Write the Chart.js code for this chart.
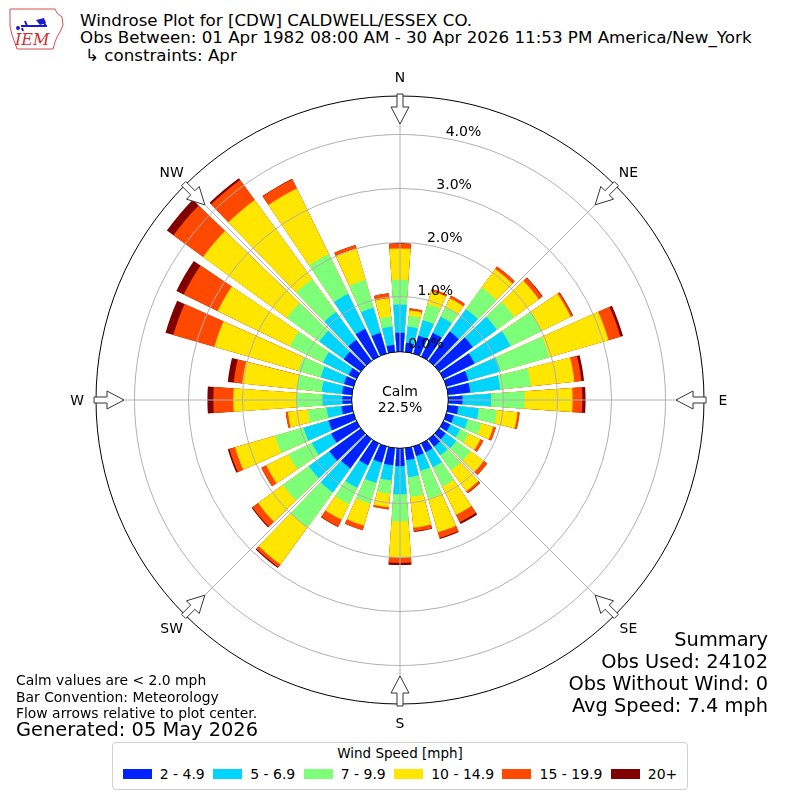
<!DOCTYPE html>
<html>
<head>
<meta charset="utf-8">
<title>Windrose CDW</title>
<script src="https://cdn.jsdelivr.net/npm/chart.js@4.4.1/dist/chart.umd.min.js"></script>
<style>
  html, body { margin: 0; padding: 0; background: #fff; }
  body { width: 800px; height: 800px; position: relative; overflow: hidden;
         font-family: "DejaVu Sans", sans-serif; color: #000; }
  #rose { position: absolute; left: 0; top: 0; }
  .t { position: absolute; white-space: nowrap; }
  .title { left: 80px; font-size: 16.7px; line-height: 18px; }
  .note { left: 16px; font-size: 13.9px; line-height: 16px; }
  .sum { right: 32px; font-size: 19.4px; line-height: 22px; text-align: right; }
  .lbl { position: absolute; white-space: nowrap; font-size: 13.9px; line-height: 16px;
         transform: translate(-50%, -50%); }
  #legend { position: absolute; left: 112px; top: 742px; width: 574px; height: 46px;
            border: 1px solid #d0d0d0; border-radius: 4px; background: #fff; }
  #legend .lt { text-align: center; font-size: 13.5px; line-height: 16px; margin-top: 2px; }
  #legend .row { display: flex; justify-content: center; align-items: center; margin-top: 5px;
                 font-size: 14px; line-height: 16px; }
  #legend .it { display: flex; align-items: center; margin: 0 4.2px; }
  #legend .sw { width: 29px; height: 10px; margin-right: 8px; }
</style>
</head>
<body>
<svg style="position:absolute;left:6px;top:4px" width="60" height="48" viewBox="0 0 60 48">
  <path d="M4,5 L49,5 L51,9 L56,13 L57,21 L54,28 L51,33 L49,38 L47,45 L11,45 L9,39 L6,31 L4,22 Z"
        fill="none" stroke="#d05050" stroke-width="1"/>
  <path d="M15,22 L41,22 M19,17 L21,22 M36,16 L40,22 M16,24 L17,27" stroke="#1a1ad0" stroke-width="2" fill="none"/>
  <path d="M30,16 L38,14 L40,19 L34,21 Z" fill="#1a1ad0"/>
  <circle cx="12" cy="24" r="2" fill="#1a1ad0"/>
  <text x="9" y="41" font-family="DejaVu Serif, serif" font-style="italic" font-size="16" fill="#d03030">IEM</text>
</svg>

<div class="t title" style="top:11px">Windrose Plot for [CDW] CALDWELL/ESSEX CO.</div>
<div class="t title" style="top:28px">Obs Between: 01 Apr 1982 08:00 AM - 30 Apr 2026 11:53 PM America/New_York</div>
<div class="t title" style="top:46px;left:85px">↳ constraints: Apr</div>

<canvas id="rose" width="800" height="800"></canvas>

<div class="t note" style="top:672px">Calm values are &lt; 2.0 mph</div>
<div class="t note" style="top:689px">Bar Convention: Meteorology</div>
<div class="t note" style="top:705px">Flow arrows relative to plot center.</div>
<div class="t note" style="top:719px;font-size:19.4px;line-height:22px">Generated: 05 May 2026</div>

<div class="t sum" style="top:629px">Summary</div>
<div class="t sum" style="top:651px">Obs Used: 24102</div>
<div class="t sum" style="top:673px">Obs Without Wind: 0</div>
<div class="t sum" style="top:695px">Avg Speed: 7.4 mph</div>

<div id="legend"><div class="lt">Wind Speed [mph]</div><div class="row" id="legendRow"></div></div>

<script>
// direction bins (degrees, meteorological, centre of each 10 deg sector)
const directions = [0, 10, 20, 30, 40, 50, 60, 70, 80, 90, 100, 110, 120, 130, 140, 150, 160, 170,
  180, 190, 200, 210, 220, 230, 240, 250, 260, 270, 280, 290, 300, 310, 320, 330, 340, 350];

const speedBins = ['2 - 4.9', '5 - 6.9', '7 - 9.9', '10 - 14.9', '15 - 19.9', '20+'];
const binColors = ['#0022ff', '#00d4ff', '#7dff7a', '#ffe600', '#ff4800', '#800000'];

// frequency [%] per direction for each speed bin
const speed2to5 = [0.33, 0.15, 0.32, 0.47, 0.65, 0.75, 0.62, 0.40, 0.39, 0.24, 0.17, 0.12, 0.12, 0.13, 0.15, 0.16, 0.16, 0.20,
  0.31, 0.30, 0.29, 0.43, 0.65, 0.70, 0.50, 0.46, 0.17, 0.15, 0.16, 0.16, 0.14, 0.37, 0.46, 0.55, 0.38, 0.11];
const speed5to7 = [0.52, 0.30, 0.30, 0.33, 0.51, 0.55, 0.74, 0.62, 0.56, 0.53, 0.38, 0.27, 0.20, 0.24, 0.20, 0.31, 0.29, 0.32,
  0.52, 0.28, 0.39, 0.46, 0.55, 0.47, 0.40, 0.48, 0.28, 0.37, 0.38, 0.45, 0.53, 0.56, 0.64, 0.72, 0.48, 0.34];
const speed7to10 = [0.46, 0.20, 0.31, 0.20, 0.50, 0.40, 0.64, 0.94, 0.57, 0.62, 0.34, 0.26, 0.18, 0.33, 0.34, 0.40, 0.53, 0.37,
  0.50, 0.25, 0.40, 0.34, 0.80, 0.59, 0.48, 0.55, 0.35, 0.47, 0.47, 0.43, 0.68, 0.74, 0.75, 0.82, 0.54, 0.19];
const speed10to15 = [0.58, 0.10, 0.25, 0.18, 0.42, 0.56, 0.60, 1.14, 0.81, 0.89, 0.38, 0.23, 0.24, 0.30, 0.48, 0.58, 0.65, 0.57,
  0.67, 0.25, 0.42, 0.32, 0.85, 0.57, 0.46, 0.77, 0.37, 1.18, 1.01, 1.62, 1.49, 1.92, 1.81, 1.35, 0.60, 0.34];
const speed15to20 = [0.09, 0.04, 0.04, 0.05, 0.06, 0.08, 0.04, 0.23, 0.13, 0.18, 0.04, 0.05, 0.06, 0.08, 0.04, 0.15, 0.11, 0.07,
  0.10, 0.04, 0.09, 0.14, 0.06, 0.13, 0.10, 0.11, 0.04, 0.37, 0.16, 0.79, 0.70, 0.68, 0.46, 0.19, 0.07, 0.09];
const speed20plus = [0.01, 0, 0, 0, 0, 0.01, 0.01, 0.05, 0.05, 0.06, 0, 0, 0, 0, 0.01, 0.04, 0.02, 0.01,
  0.04, 0, 0, 0.01, 0.02, 0.02, 0, 0.03, 0, 0.11, 0.11, 0.15, 0.15, 0.15, 0.04, 0.01, 0, 0];

const calmPercent = 22.5;
const radialTicks = [1, 2, 3, 4];
const tickLabelValues = [0, 1, 2, 3, 4];
const compassNames = ['N', 'NE', 'E', 'SE', 'S', 'SW', 'W', 'NW'];

const bins = [speed2to5, speed5to7, speed7to10, speed10to15, speed15to20, speed20plus];

// scale range: centre of plot is below 0 so the calm circle sits inside
const RMIN = -0.917, RMAX = 4.713;
const BAR_DEG = 8, GAP_DEG = 2;

// every sector = one bar slot + one empty gap slot
const slotLabels = [];
directions.forEach(d => { slotLabels.push(d + '°'); slotLabels.push(''); });

let running = directions.map(() => 0);
const datasets = bins.map((bin, k) => {
  running = running.map((v, i) => v + bin[i]);
  const data = [];
  running.forEach(v => { data.push(+v.toFixed(3)); data.push(null); });
  return {
    label: speedBins[k],
    data: data,
    backgroundColor: binColors[k],
    borderWidth: 0,
    angle: ctx => (ctx.dataIndex % 2 === 0 ? BAR_DEG : GAP_DEG)
  };
});

// html labels
const body = document.body;
const compassEls = compassNames.map(n => {
  const el = document.createElement('div'); el.className = 'lbl'; el.textContent = n; body.appendChild(el); return el;
});
const pctEls = tickLabelValues.map(v => {
  const el = document.createElement('div'); el.className = 'lbl'; el.style.fontSize = '14px';
  el.textContent = v.toFixed(1) + '%'; body.appendChild(el); return el;
});
const calmEl = document.createElement('div');
calmEl.className = 'lbl'; calmEl.style.textAlign = 'center'; calmEl.style.fontSize = '14px'; calmEl.style.lineHeight = '16px';
calmEl.innerHTML = 'Calm<br>' + calmPercent.toFixed(1) + '%';
body.appendChild(calmEl);

const row = document.getElementById('legendRow');
speedBins.forEach((name, k) => {
  const it = document.createElement('div'); it.className = 'it';
  it.innerHTML = '<div class="sw" style="background:' + binColors[k] + '"></div><span>' + name + '</span>';
  row.appendChild(it);
});

const rad = d => d * Math.PI / 180;

const decor = {
  id: 'windroseDecor',
  afterDatasetsDraw(chart) {
    const s = chart.scales.r, ctx = chart.ctx;
    const cx = s.xCenter, cy = s.yCenter, R = s.drawingArea;
    const rCalm = s.getDistanceFromCenterForValue(0) - 1.2;
    ctx.save();
    ctx.strokeStyle = '#b0b0b0';
    ctx.lineWidth = 1;
    for (let a = 0; a < 360; a += 45) {
      ctx.beginPath();
      ctx.moveTo(cx + rCalm * Math.sin(rad(a)), cy - rCalm * Math.cos(rad(a)));
      ctx.lineTo(cx + R * Math.sin(rad(a)), cy - R * Math.cos(rad(a)));
      ctx.stroke();
    }
    ctx.beginPath();
    ctx.arc(cx, cy, rCalm, 0, 2 * Math.PI);
    ctx.fillStyle = '#fff';
    ctx.fill();
    ctx.strokeStyle = '#000';
    ctx.stroke();
    ctx.restore();
  },
  afterDraw(chart) {
    const s = chart.scales.r, ctx = chart.ctx;
    const cx = s.xCenter, cy = s.yCenter, R = s.drawingArea;
    ctx.save();
    compassNames.forEach((n, k) => {
      const t = rad(k * 45);
      const ux = Math.sin(t), uy = -Math.cos(t), px = Math.cos(t), py = Math.sin(t);
      const pt = (r, w) => [cx + r * ux + w * px, cy + r * uy + w * py];
      const pts = [pt(R + 2, -3), pt(R - 11, -3), pt(R - 11, -9), pt(R - 28, 0), pt(R - 11, 9), pt(R - 11, 3), pt(R + 2, 3)];
      ctx.beginPath();
      pts.forEach((p, i) => (i ? ctx.lineTo(p[0], p[1]) : ctx.moveTo(p[0], p[1])));
      ctx.closePath();
      ctx.fillStyle = '#fff';
      ctx.fill();
      ctx.strokeStyle = '#333';
      ctx.lineWidth = 1;
      ctx.stroke();
      const lr = R + 19;
      compassEls[k].style.left = (cx + lr * ux) + 'px';
      compassEls[k].style.top = (cy + lr * uy) + 'px';
    });
    ctx.restore();
    tickLabelValues.forEach((v, i) => {
      const r = s.getDistanceFromCenterForValue(v) + 8;
      pctEls[i].style.left = (cx + r * Math.sin(rad(10)) + 16) + 'px';
      pctEls[i].style.top = (cy - r * Math.cos(rad(10))) + 'px';
    });
    calmEl.style.left = cx + 'px';
    calmEl.style.top = (cy - 1) + 'px';
  }
};

new Chart(document.getElementById('rose').getContext('2d'), {
  type: 'polarArea',
  data: { labels: slotLabels, datasets: datasets },
  options: {
    responsive: false,
    devicePixelRatio: 1,
    animation: false,
    layout: { padding: 96 },
    plugins: { legend: { display: false }, tooltip: { enabled: false } },
    scales: {
      r: {
        min: RMIN,
        max: RMAX,
        beginAtZero: false,
        startAngle: -BAR_DEG / 2,
        ticks: { display: false },
        grid: {
          z: 1,
          circular: true,
          lineWidth: 1,
          color: ctx => (ctx.tick && ctx.tick.value === RMAX ? '#000' : '#b0b0b0')
        },
        angleLines: { display: false },
        pointLabels: { display: false },
        afterBuildTicks: scale => {
          scale.ticks = [RMIN].concat(radialTicks, [RMAX]).map(v => ({ value: v }));
        }
      }
    }
  },
  plugins: [decor]
});
</script>
</body>
</html>
